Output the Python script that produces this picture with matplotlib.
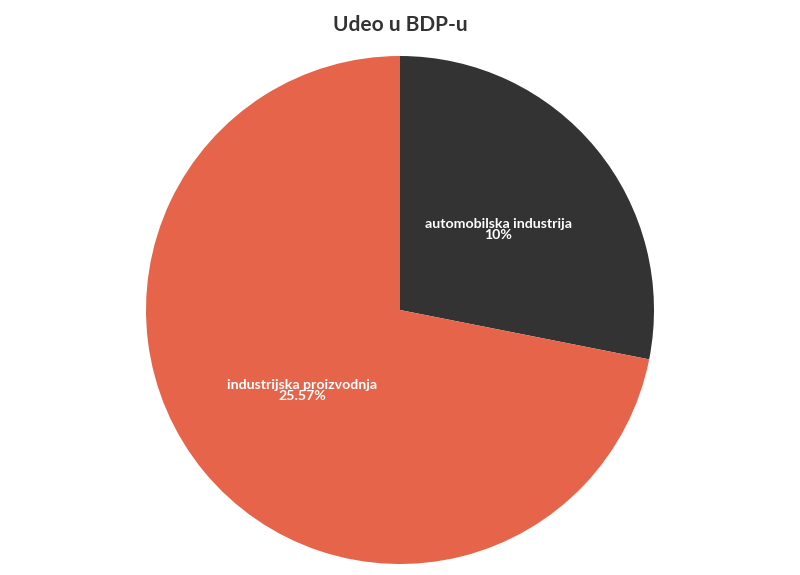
import matplotlib
matplotlib.use("Agg")
import matplotlib.pyplot as plt

categories = ["automobilska industrija", "industrijska proizvodnja"]
values = [10, 25.57]
value_labels = ["10%", "25.57%"]
colors = ["#333333", "#E5644A"]

plt.rcParams['font.family'] = ['Lato', 'DejaVu Sans']

fig = plt.figure(figsize=(8, 5.75), dpi=100)
W, H = 800, 575
cx, cy, r = 400, 310, 254
ax = fig.add_axes([(cx - r) / W, (H - cy - r) / H, 2 * r / W, 2 * r / H])

labels = [f"{c}\n{v}" for c, v in zip(categories, value_labels)]
wedges, texts = ax.pie(values, colors=colors, startangle=90, counterclock=False,
                       labels=labels, labeldistance=0.5,
                       textprops=dict(color="white", fontsize=10.2, fontweight="bold",
                                      ha="center", va="center", linespacing=0.9))
for t in texts:
    t.set_horizontalalignment("center")
ax.set_aspect("equal")
ax.set_xlim(-1, 1)
ax.set_ylim(-1, 1)
ax.axis("off")

fig.text(0.5, 1 - 25 / H, "Udeo u BDP-u", ha="center", va="center",
         fontsize=15, fontweight="bold", color="#333333")

fig.savefig("out.png", dpi=100)
